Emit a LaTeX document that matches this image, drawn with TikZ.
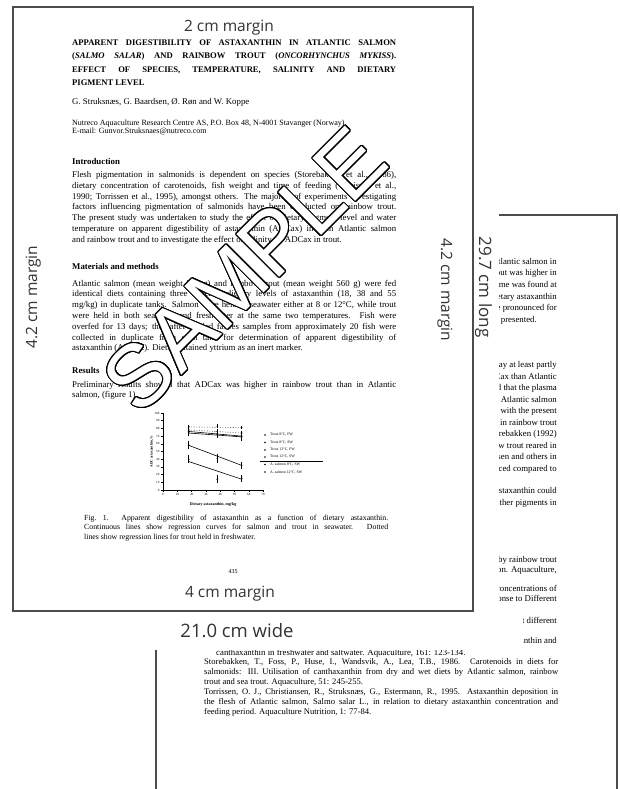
\documentclass[tikz,border=0pt]{standalone}
\usepackage{fontspec}
\setmainfont{Liberation Serif}
\newfontfamily\marginfont{Open Sans}
\newfontfamily\stampfont{Liberation Sans}
\usepackage{contour}
\contourlength{1pt}
\contournumber{24}
\usetikzlibrary{calc,positioning}

\tikzset{
  page/.style={draw=black!70, line width=1.4pt},
  marginlabel/.style={font=\marginfont\fontsize{15.5}{18}\selectfont, text=black!80, anchor=base},
  bodytext/.style={font=\fontsize{8.8}{10.8}\selectfont, text width=324pt, align=justify, anchor=base west},
  headtext/.style={font=\bfseries\fontsize{8.8}{10.8}\selectfont, anchor=base west},
  backtext/.style={font=\fontsize{8.8}{11.6}\selectfont, anchor=base east},
  reftext/.style={font=\fontsize{8.6}{10}\selectfont, text width=354pt, align=justify, anchor=base west},
  ticktext/.style={font=\fontsize{3.2}{3.6}\selectfont},
  legendtext/.style={font=\fontsize{3.8}{4.2}\selectfont, anchor=west},
}

\begin{document}
\begin{tikzpicture}[x=1pt, y=-1pt, every node/.style={inner sep=0pt}]
        \useasboundingbox (0,0) rectangle (620,789);
        \coordinate (f1) at (13,7);
        \coordinate (f3) at (473,611);
        \coordinate (b1) at (156,650);
        \coordinate (b2) at (499,215);
        \coordinate (b3) at (617,215);
        \coordinate (b4) at (617,789);
        \coordinate (b5) at (156,789);

        % second page, behind
        \draw[page] (b2) -- (b3) -- (b4);
        \draw[page] (b1) -- (b5);
        \begin{scope}
          \clip (499,215) -- (620,215) -- (620,789) -- (150,789) -- (150,650) -- (523,650) -- (523,611) -- (499,611) -- cycle;
          \foreach \y/\txt [count=\k] in {264/{of dietary astaxanthin than in Atlantic salmon in},
              275.5/{freshwater. ADCax in rainbow trout was higher in},
              287/{seawater than in freshwater. The same was found at},
              299/{low temperature and high dietary astaxanthin},
              310.5/{level. The effect was more pronounced for},
              367.5/{The difference between species may at least partly},
              379/{be explained by trout having higher ADCax than Atlantic},
              390.5/{salmon. Kiessling (1995) reported that the plasma},
              402/{astaxanthin levels were lower in Atlantic salmon},
              413.5/{than in rainbow trout, in agreement with the present},
              425/{results. Temperature affected ADCax in rainbow trout},
              436.5/{in the same way as found by Storebakken (1992)},
              448/{for canthaxanthin in rainbow trout reared in},
              459.5/{freshwater, and by Torrissen and others in},
              471/{seawater, where ADCax was reduced compared to},
              493/{The results indicate that dietary astaxanthin could},
              505/{affect the utilisation of other pigments in},
              562/{on the utilisation of dietary astaxanthin by rainbow trout},
              572.5/{Oncorhynchus mykiss, and Atlantic salmon. Aquaculture,},
              591.5/{rainbow trout fed diets with different concentrations of},
              601.5/{astaxanthin and canthaxanthin in Response to Different},
              623/{deposition of astaxanthin at different},
              643/{Storebakken, T., 1998. Digestibility of astaxanthin and}}
            \node[backtext] (back\k) at (557,\y) {\txt};
          \node[backtext] (backend) at (537,322) {the trout groups presented.};
          \node[backtext, anchor=base west] (ref0) at (216,655) {canthaxanthin in freshwater and saltwater. Aquaculture, 161: 123-134.};
        \end{scope}
        \node[reftext] (ref1) at (204,664) {\hangindent=12pt\hangafter=1 Storebakken, T., Foss, P., Huse, I., Wandsvik, A., Lea, T.B., 1986. Carotenoids in diets for\linebreak salmonids: III. Utilisation of canthaxanthin from dry and wet diets by Atlantic salmon, rainbow\linebreak trout and sea trout. Aquaculture, 51: 245-255.};
        \node[reftext] (ref2) at (204,694) {\hangindent=12pt\hangafter=1 Torrissen, O. J., Christiansen, R., Struksnæs, G., Estermann, R., 1995. Astaxanthin deposition in\linebreak the flesh of Atlantic salmon, Salmo salar L., in relation to dietary astaxanthin concentration and\linebreak feeding period. Aquaculture Nutrition, 1: 77-84.};

        % first page, in front
        \draw[page, fill=white] (f1) rectangle (f3);
        \node[bodytext, font=\bfseries\fontsize{8.6}{13.4}\selectfont] (title) at (72,45.5) {APPARENT DIGESTIBILITY OF ASTAXANTHIN IN ATLANTIC SALMON\linebreak (\textit{SALMO SALAR}) AND RAINBOW TROUT (\textit{ONCORHYNCHUS MYKISS}).\linebreak EFFECT OF SPECIES, TEMPERATURE, SALINITY AND DIETARY\linebreak PIGMENT LEVEL};
        \node[headtext, font=\fontsize{8.8}{10}\selectfont] (authors) at (72,105) {G. Struksnæs, G. Baardsen, Ø. Røn and W. Koppe};
        \node[bodytext, font=\fontsize{8}{8.6}\selectfont] (affil) at (72,125) {Nutreco Aquaculture Research Centre AS, P.O. Box 48, N-4001 Stavanger (Norway).\\ E-mail: Gunvor.Struksnaes@nutreco.com};
        \node[headtext] (intro) at (72,164.5) {Introduction};
        \node[bodytext] (introtext) at (72,177.5) {Flesh pigmentation in salmonids is dependent on species (Storebakken et al., 1986),\linebreak dietary concentration of carotenoids, fish weight and time of feeding (Torrissen et al.,\linebreak 1990; Torrissen et al., 1995), amongst others. The majority of experiments investigating\linebreak factors influencing pigmentation of salmonids have been conducted on rainbow trout.\linebreak The present study was undertaken to study the effect of dietary pigment level and water\linebreak temperature on apparent digestibility of astaxanthin (ADCax) in both Atlantic salmon\linebreak and rainbow trout and to investigate the effect of salinity on ADCax in trout.};
        \node[headtext] (methods) at (72,269) {Materials and methods};
        \node[bodytext] (methodstext) at (72,286) {Atlantic salmon (mean weight 560 g) and rainbow trout (mean weight 560 g) were fed\linebreak identical diets containing three different dietary levels of astaxanthin (18, 38 and 55\linebreak mg/kg) in duplicate tanks. Salmon were held in seawater either at 8 or 12°C, while trout\linebreak were held in both seawater and freshwater at the same two temperatures. Fish were\linebreak overfed for 13 days; thereafter pooled faeces samples from approximately 20 fish were\linebreak collected in duplicate from each tank for determination of apparent digestibility of\linebreak astaxanthin (ADCax). Diets contained yttrium as an inert marker.};
        \node[headtext] (results) at (72,373) {Results};
        \node[bodytext] (resultstext) at (72,387) {Preliminary results showed that ADCax was higher in rainbow trout than in Atlantic\linebreak salmon, (figure 1).};

        % figure 1
        \begin{scope}[shift={(163,490)}, x=1.43pt, y=0.77pt, line width=0.6pt]
          \draw (0,100) -- (0,0) -- (70,0);
          \foreach \t in {0,10,...,70}
            \draw (\t,0) -- (\t,-2.5) node[ticktext, below=1.5pt] {\t};
          \foreach \v in {0,10,...,100}
            \draw (0,\v) -- (-1.5,\v) node[ticktext, left=1.2pt] {\v};
          \node[ticktext, font=\bfseries\fontsize{3.6}{4}\selectfont, rotate=90] (ylabel) at (-8,50) {ADC astaxanthin, \%};
          \node[ticktext, font=\bfseries\fontsize{4}{4.4}\selectfont] (xlabel) at (35,-19.5) {Dietary astaxanthin, mg/kg};
          \draw[dotted] (18,82) -- (55,81);
          \draw (18,74) -- (55,69);
          \draw[dotted] (18,78) -- (55,74);
          \draw (18,76) -- (55,70);
          \draw (18,58) -- (55,32);
          \draw (18,37) -- (55,14);
          \foreach \px/\py/\e in {18/82/3, 38/83/3, 55/81/2, 18/74/4, 38/72/4, 55/69/5,
              18/78/3, 38/76/3, 55/74/3, 18/76/4, 38/73/4, 55/70/4,
              18/58/5, 38/41/6, 55/32/5, 18/40/5, 38/14/5, 55/15/5}
          {
            \draw (\px,\py-\e) -- (\px,\py+\e);
            \fill (\px,\py) circle (0.9pt);
          }
        \end{scope}
        \foreach \y/\txt [count=\k] in {435/{Trout 8°C, FW}, 442.5/{Trout 8°C, SW}, 450/{Trout 12°C, FW},
            457/{Trout 12°C, SW}, 464.5/{A. salmon 8°C, SW}, 472/{A. salmon 12°C, SW}}
        {
          \fill (265,\y) circle (0.8pt);
          \node[legendtext] (legend\k) at (270,\y) {\txt};
        }
        \draw[line width=0.6pt] (260,461) -- (323,461);
        \node[bodytext, font=\fontsize{7.8}{9.7}\selectfont, text width=304pt] (caption) at (84,520) {\hangindent=26pt\hangafter=1 Fig.~1.\ \ Apparent digestibility of astaxanthin as a function of dietary astaxanthin.\linebreak Continuous lines show regression curves for salmon and trout in seawater. Dotted\linebreak lines show regression lines for trout held in freshwater.};
        \node[font=\fontsize{6}{6}\selectfont, anchor=base] (pageno) at (233,573) {435};

        % stamp
        \node[font=\stampfont\fontsize{88}{88}\selectfont, rotate=45] (sample) at (245,270) {\contour{black}{\textcolor{white}{SAMPLE}}};

        % size labels
        \node[marginlabel] (topmargin) at (229,32) {2 cm margin};
        \node[marginlabel] (bottommargin) at (230,597) {4 cm margin};
        \node[marginlabel, rotate=90] (leftmargin) at (37,297) {4.2 cm margin};
        \node[marginlabel, rotate=-90] (rightmargin) at (441,290) {4.2 cm margin};
        \node[marginlabel, font=\marginfont\fontsize{17}{20}\selectfont, rotate=-90] (pagelength) at (479,287) {29.7 cm long};
        \node[marginlabel, font=\marginfont\fontsize{18.5}{22}\selectfont] (pagewidth) at (237,637) {21.0 cm wide};
\end{tikzpicture}
\end{document}
